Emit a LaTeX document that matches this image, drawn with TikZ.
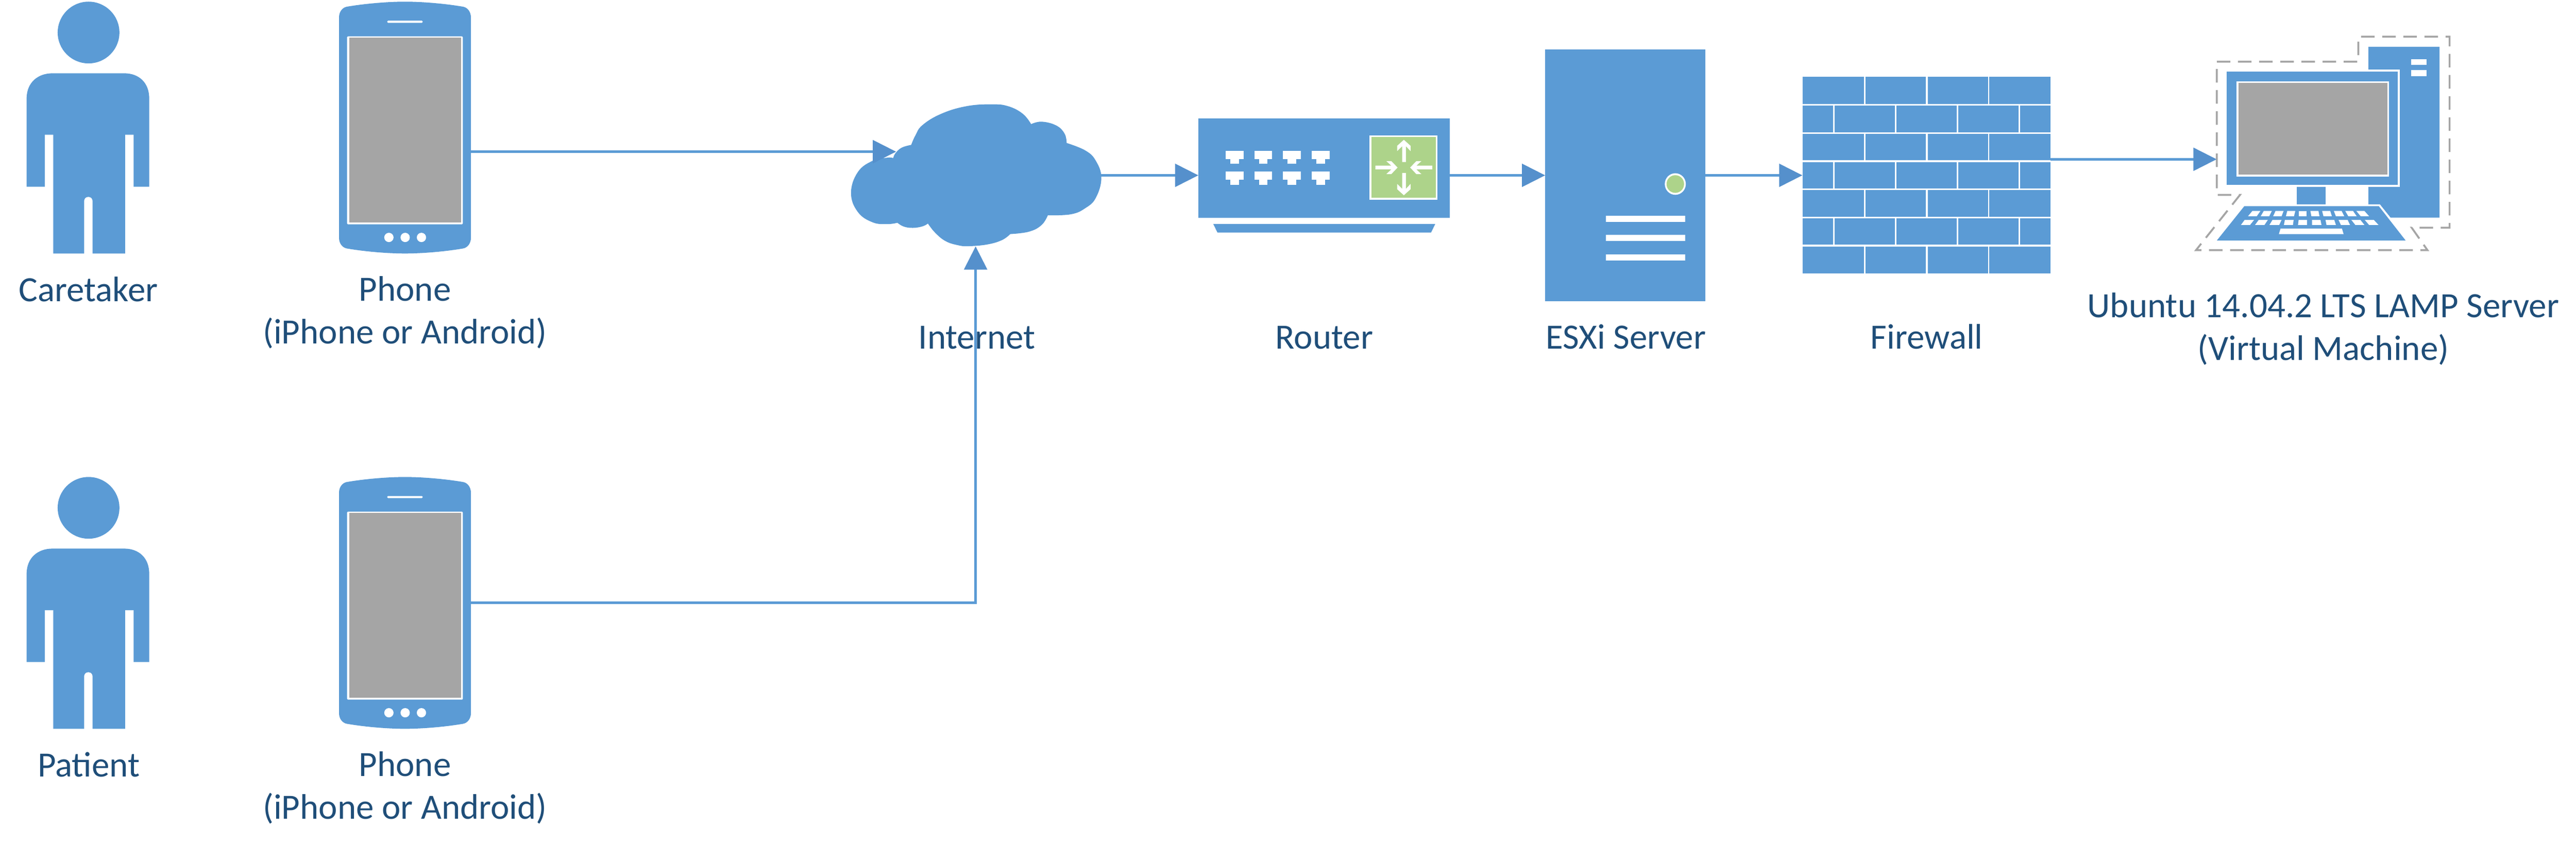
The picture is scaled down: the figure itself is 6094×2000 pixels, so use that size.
\documentclass[tikz,border=0pt]{standalone}
\usepackage{fontspec}
\setmainfont{Carlito}
\usetikzlibrary{arrows.meta,calc}
\definecolor{iconblue}{HTML}{5B9BD5}
\definecolor{tipblue}{HTML}{5590CC}
\definecolor{screengray}{HTML}{A5A5A5}
\definecolor{ledgreen}{HTML}{ADD38A}
\definecolor{textblue}{HTML}{1F4E79}
\tikzset{
  icon/.style={fill=iconblue,draw=none},
  paper/.style={fill=white,draw=none},
  screen/.style={fill=screengray,draw=none},
  led/.style={fill=ledgreen,draw=none},
  hitbox/.style={inner sep=0pt,outer sep=0pt,draw=none},
  lbl/.style={text=textblue,anchor=base,align=center,inner sep=0pt,font=\fontsize{23.9pt}{28.6pt}\selectfont},
  conn/.style={draw=iconblue,line width=0.06cm,-{Triangle[length=0.55cm,width=0.54cm,color=tipblue]}},
  vmdash/.style={draw=screengray,line width=0.045cm,dash pattern=on 0.32cm off 0.18cm}
}
\newcommand{\personicon}[1]{%
  \begin{scope}[shift={(0,#1)}]
    \fill[icon] (209.5,77) circle[radius=0.73cm];
    \fill[icon] (63,233) .. controls (63,195) and (90,173.5) .. (124,173.5) -- (294,173.5)
      .. controls (328,173.5) and (353,195) .. (353,233) -- (353,442) -- (316,442) -- (316,319)
      -- (296,319) -- (296,600) -- (219,600) -- (219,476)
      .. controls (219,470) and (215,466) .. (209,466) .. controls (203,466) and (199,470) .. (199,476)
      -- (199,600) -- (126,600) -- (126,319) -- (106,319) -- (106,442) -- (63,442) -- cycle;
  \end{scope}}
\newcommand{\phoneicon}[1]{%
  \begin{scope}[shift={(0,#1)}]
    \fill[icon] (802,41) .. controls (802,28) and (810,18) .. (820,16)
      .. controls (860,9) and (915,4) .. (958,4) .. controls (1001,4) and (1056,9) .. (1096,16)
      .. controls (1106,18) and (1114,28) .. (1114,41) -- (1114,563)
      .. controls (1114,576) and (1106,586) .. (1096,588)
      .. controls (1056,595) and (1001,600) .. (958,600) .. controls (915,600) and (860,595) .. (820,588)
      .. controls (810,586) and (802,576) .. (802,563) -- cycle;
    \fill[paper,rounded corners=0.02cm] (916,49) rectangle (1000,54);
    \fill[paper,rounded corners=0.02cm] (821,86) rectangle (1095,531);
    \fill[screen] (826,89.5) rectangle (1091,526);
    \foreach \bx in {920,958.5,997} \fill[paper] (\bx,562) circle[radius=0.11cm];
  \end{scope}}
\begin{document}
\begin{tikzpicture}[x=0.01cm,y=-0.01cm]
\useasboundingbox (0,0) rectangle (6094,2000);

% people and phones
\personicon{0}
\personicon{1125}
\phoneicon{0}
\phoneicon{1125}
\node[hitbox,minimum width=2.9cm,minimum height=5.96cm] (caretaker) at (208,302) {};
\node[hitbox,minimum width=2.9cm,minimum height=5.96cm] (patient) at (208,1427) {};
\node[hitbox,minimum width=3.12cm,minimum height=5.96cm] (phoneA) at (958,302) {};
\node[hitbox,minimum width=3.12cm,minimum height=5.96cm] (phoneB) at (958,1427) {};

% cloud
\begin{scope}[shift={(1950,180)},xscale=0.9885,yscale=0.4464]
  \fill[icon]
    plot[smooth,tension=.7] coordinates {(165,435) (150,433) (115,450) (80,510) (64,620) (80,720) (115,775) (150,785) (175,778)}
    -- plot[smooth,tension=.7] coordinates {(175,778) (190,798) (212,805) (235,797) (248,782)}
    -- plot[smooth,tension=.7] coordinates {(248,782) (265,830) (290,875) (320,897) (345,902) (390,893) (425,870) (445,838)}
    -- plot[smooth,tension=.7] coordinates {(445,838) (490,825) (520,790) (535,738)}
    -- plot[smooth,tension=.7] coordinates {(535,738) (590,733) (625,700) (650,645) (663,540) (650,450) (625,395) (580,355)}
    -- plot[smooth,tension=.7] coordinates {(580,355) (575,305) (555,262) (520,242) (495,255)}
    -- plot[smooth,tension=.7] coordinates {(495,255) (475,200) (440,160) (400,150) (340,160) (280,200) (235,260) (218,315) (208,365)}
    -- plot[smooth,tension=.7] coordinates {(208,365) (185,380) (170,410) (165,435)}
    -- cycle;
\end{scope}
\node[hitbox,minimum width=5.92cm,minimum height=3.36cm] (cloud) at (2308,415) {};

% router
\begin{scope}[shift={(1950,180)},xscale=0.9885,yscale=0.4464]
  \fill[icon] (895,224) rectangle (1497,752);
  \fill[icon] (931,785) -- (1462,785) -- (1452,830) -- (941,830) -- cycle;
  \fill[paper] (1304,314) rectangle (1467,656);
  \fill[led] (1309,324) rectangle (1464,646);
  \foreach \px/\pw in {961/43,1030/42,1098/43,1166/44}
    \foreach \py in {396,506} {
      \fill[paper] (\px,\py) rectangle ++(\pw,45);
      \fill[paper] (\px+11,\py+45) rectangle ++(\pw-22,25);
    }
  \fill[paper] (1387,338) -- (1403,370) -- (1403,398) -- (1392,372) -- (1392,456) -- (1383,456) -- (1383,372) -- (1371,398) -- (1371,370) -- cycle;
  \fill[paper] (1387,632) -- (1403,600) -- (1403,572) -- (1392,598) -- (1392,514) -- (1383,514) -- (1383,598) -- (1371,572) -- (1371,600) -- cycle;
  \fill[paper] (1372,485) -- (1357,451) -- (1345,451) -- (1357,475) -- (1319,475) -- (1319,495) -- (1357,495) -- (1345,520) -- (1357,520) -- cycle;
  \fill[paper] (1402,485) -- (1417,451) -- (1429,451) -- (1417,475) -- (1455,475) -- (1455,495) -- (1417,495) -- (1429,520) -- (1417,520) -- cycle;
\end{scope}
\node[hitbox,minimum width=5.95cm,minimum height=2.70cm] (router) at (3132.5,415) {};

% server
\begin{scope}[shift={(3600,80)},xscale=0.8292,yscale=0.5102]
  \fill[icon] (67,72) rectangle (524,1240);
  \fill[paper] (438,697) ellipse[x radius=30,y radius=50];
  \fill[led] (438,697) ellipse[x radius=25,y radius=41];
  \foreach \by in {844,933,1023} \fill[paper] (240,\by) rectangle (466,\by+29);
\end{scope}
\node[hitbox,minimum width=3.79cm,minimum height=5.96cm] (server) at (3845,415) {};

% firewall
\begin{scope}[shift={(3600,80)},xscale=0.8292,yscale=0.5102]
  \foreach \ya/\yb in {198/326,465/587,725/848,987/1112}
    \foreach \xa/\xb in {801/976,981/1153,1158/1330,1334/1508}
      \fill[icon] (\xa,\ya) rectangle (\xb,\yb);
  \foreach \ya/\yb in {334/457,595/717,856/978}
    \foreach \xa/\xb in {801/888,892/1065,1069/1241,1245/1418,1422/1508}
      \fill[icon] (\xa,\ya) rectangle (\xb,\yb);
\end{scope}
\node[hitbox,minimum width=5.86cm,minimum height=4.66cm] (firewall) at (4557,415) {};

% virtual machine
\begin{scope}[shift={(4850,50)},xscale=0.7933,yscale=0.5420]
  \path[vmdash] (497,177) -- (919,177) -- (919,68) -- (1191,68) -- (1191,902) -- (1078,902) -- (1125,1000) -- (435,1000) -- (566,759) -- (497,759) -- cycle;
  \fill[icon] (949,112) -- (1161,112) -- (1161,858) -- (1015,858) -- (983,800) -- (949,800) -- cycle;
  \fill[paper] (1076,166) rectangle (1123,192);
  \fill[paper] (1076,214) rectangle (1123,240);
  \fill[paper] (520,212) rectangle (1042,724);
  \fill[icon] (527,220) rectangle (1037,716);
  \fill[paper] (555,262) rectangle (1010,679);
  \fill[screen] (561,270) rectangle (1005,671);
  \fill[icon] (736,724) rectangle (822,800);
  \fill[paper] (579,800) -- (983,800) -- (1068,958) -- (1000,958) -- (900,830) -- cycle;
  \fill[icon] (579,808) -- (980,808) -- (1060,958) -- (497,958) -- cycle;
  \foreach \a/\b/\c/\d in {603/627/616/590,637/661/653/628,672/696/690/665,707/731/727/703,741/765/765/741,776/800/803/779,811/835/840/815,846/869/877/852,880/903/914/889,913/937/951/926}
    \fill[paper] (\a,829) -- (\b,829) -- (\c,852) -- (\d,852) -- cycle;
  \foreach \a/\b/\c/\d in {580/608/596/569,622/649/639/611,663/690/683/654,700/726/724/697,741/766/766/739,781/806/809/781,821/847/852/824,860/887/894/867,898/925/937/910,938/965/979/951}
    \fill[paper] (\a,868) -- (\b,868) -- (\c,890) -- (\d,890) -- cycle;
  \fill[paper] (687,906) -- (870,906) -- (875,930) -- (682,930) -- cycle;
\end{scope}
\node[hitbox,minimum width=6.0cm,minimum height=5.06cm] (vm) at (5495,340) {};

% labels
\node[lbl] (lblCaretaker) at (209,714) {Caretaker};
\node[lbl] (lblPhoneA) at (958,813) {Phone\\(iPhone or Android)};
\node[lbl] (lblPatient) at (210,1839) {Patient};
\node[lbl] (lblPhoneB) at (958,1938) {Phone\\(iPhone or Android)};
\node[lbl] (lblInternet) at (2311,826) {Internet};
\node[lbl] (lblRouter) at (3133,826) {Router};
\node[lbl] (lblServer) at (3846,826) {ESXi Server};
\node[lbl] (lblFirewall) at (4558,826) {Firewall};
\node[lbl] (lblVM) at (5496,852) {Ubuntu 14.04.2 LTS LAMP Server\\(Virtual Machine)};

% connectors
\draw[conn] ($(phoneA.east)+(0,57)$) -- ($(cloud.west)+(108,-56)$);
\draw[conn] (phoneB.east) -| (cloud.south);
\draw[conn] (cloud.east) -- (router.west);
\draw[conn] (router.east) -- (server.west);
\draw[conn] (server.east) -- (firewall.west);
\draw[conn] ($(firewall.east)+(0,-38)$) -- ($(vm.west)+(49,37)$);
\end{tikzpicture}
\end{document}
